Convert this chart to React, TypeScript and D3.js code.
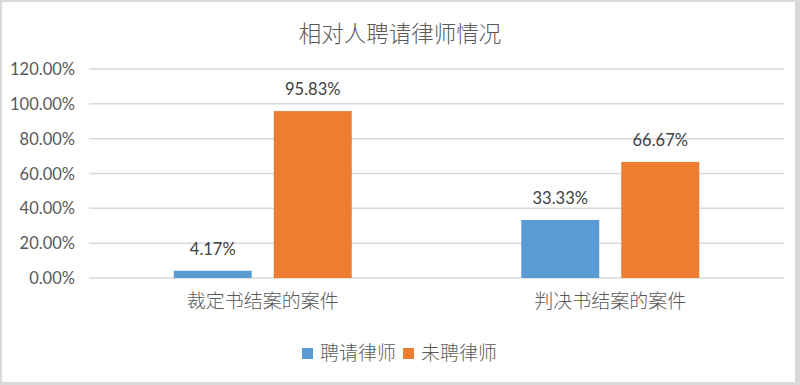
import React from 'react';
import * as d3 from 'd3';

const categories = ['裁定书结案的案件', '判决书结案的案件'];
const seriesNames = ['聘请律师', '未聘律师'];
const hired = [0.0417, 0.3333];
const notHired = [0.9583, 0.6667];
const yTicks = [0, 0.2, 0.4, 0.6, 0.8, 1.0, 1.2];
const colors = ['#5b9bd5', '#ed7d31'];

const W = 800;
const H = 385;
const left = 89;
const right = 784;
const top = 69;
const bottom = 278;

const cjk = '"Noto Sans CJK SC", "Microsoft YaHei", sans-serif';
const num = 'Lato, Carlito, "Open Sans", sans-serif';

export default function App() {
	const x0 = d3.scaleBand().domain(categories).range([left, right]).padding(0);
	const y = d3.scaleLinear().domain([0, 1.2]).range([bottom, top]);
	const bw = x0.bandwidth();
	// two bars of 78px with a 22px gap, centred in each category band
	const x1 = d3
		.scaleBand()
		.domain(seriesNames)
		.range([(bw - 178) / 2, (bw + 178) / 2])
		.paddingInner(0.22)
		.paddingOuter(0);
	const values = [hired, notHired];
	const fmt = (v: number) => (v * 100).toFixed(2) + '%';

	return (
		<div style={{ position: 'absolute', left: 0, top: 0 }}>
			<svg width={W} height={H} style={{ display: 'block' }}>
				<rect x={0} y={0} width={W} height={H} fill="#d9d9d9" />
				<rect x={2} y={2} width={793} height={380} fill="#ffffff" />
				<text x={400} y={42} textAnchor="middle" fontFamily={cjk} fontWeight={300} fontSize={22.5} fill="#595959">
					相对人聘请律师情况
				</text>
				{/* grid + y ticks */}
				{yTicks.map((t) => (
					<g key={t}>
						<line x1={left} x2={right} y1={y(t)} y2={y(t)} stroke="#d9d9d9" strokeWidth={1.5} />
						<text x={75} y={y(t) + 6} textAnchor="end" fontFamily={num} fontSize={16.5} fill="#595959">
							{fmt(t)}
						</text>
					</g>
				))}
				{/* bars */}
				{categories.map((c, ci) => (
					<g key={c} transform={`translate(${x0(c)},0)`}>
						{seriesNames.map((s, si) => {
							const v = values[si][ci];
							return (
								<g key={s}>
									<rect x={x1(s)} y={y(v)} width={x1.bandwidth()} height={bottom - y(v)} fill={colors[si]} />
									<text
										x={(x1(s) as number) + x1.bandwidth() / 2}
										y={y(v) - 16}
										textAnchor="middle"
										fontFamily={num}
										fontSize={16.5}
										fill="#404040"
									>
										{fmt(v)}
									</text>
								</g>
							);
						})}
						<text x={bw / 2} y={308} textAnchor="middle" fontFamily={cjk} fontWeight={300} fontSize={19} fill="#595959">
							{c}
						</text>
					</g>
				))}
				{/* legend */}
				{seriesNames.map((s, i) => {
					const lx = 302 + i * 101;
					return (
						<g key={s}>
							<rect x={lx} y={348} width={11} height={11} fill={colors[i]} />
							<text x={lx + 18} y={360} fontFamily={cjk} fontWeight={300} fontSize={19} fill="#595959">
								{s}
							</text>
						</g>
					);
				})}
			</svg>
		</div>
	);
}
